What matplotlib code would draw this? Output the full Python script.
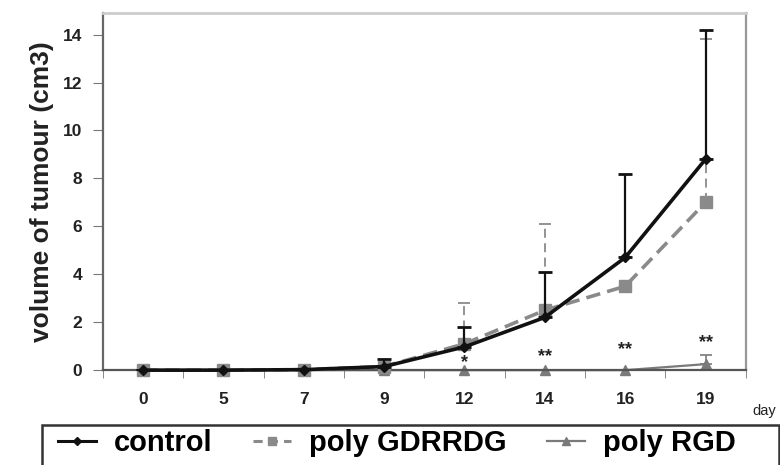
import matplotlib
matplotlib.use("Agg")
import matplotlib.pyplot as plt
from matplotlib.patches import Rectangle
from matplotlib.lines import Line2D
import numpy as np

plt.rcParams['font.family'] = ['Liberation Sans', 'DejaVu Sans']

days = ['0', '5', '7', '9', '12', '14', '16', '19']
control = [0.0, 0.0, 0.02, 0.15, 0.97, 2.2, 4.7, 8.8]
control_err = [0.0, 0.0, 0.0, 0.3, 0.85, 1.9, 3.5, 5.4]
gdrrdg = [0.0, 0.0, 0.02, 0.15, 1.1, 2.5, 3.5, 7.0]
gdrrdg_err = [0.0, 0.0, 0.0, 0.2, 1.7, 3.6, 0.0, 6.8]
rgd = [0.0, 0.0, 0.0, 0.0, 0.0, 0.0, 0.0, 0.25]
rgd_err = [0.0, 0.0, 0.0, 0.0, 0.0, 0.0, 0.0, 0.4]
stars = ['', '', '', '', '*', '**', '**', '**']
star_y = [0, 0, 0, 0, 0.42, 0.67, 0.96, 1.25]
yticks = [0, 2, 4, 6, 8, 10, 12, 14]

fig = plt.figure(figsize=(7.8, 4.65), dpi=100)
ax = fig.add_axes([0.132, 0.204, 0.824, 0.768])
x = np.arange(len(days))

# poly RGD
e3 = ax.errorbar(x, rgd, yerr=[np.zeros(len(x)), rgd_err], color='#7a7a7a',
                 lw=1.6, marker='^', ms=7, capsize=4, elinewidth=1.2, capthick=1.2,
                 zorder=2)
e3[0].set_clip_on(False)
# poly GDRRDG
e2 = ax.errorbar(x, gdrrdg, yerr=[np.zeros(len(x)), gdrrdg_err], color='#8a8a8a',
                 lw=2.6, ls=(0, (4, 2)), marker='s', ms=8, capsize=4,
                 elinewidth=1.3, capthick=1.3, zorder=3)
e2[2][0].set_linestyle((0, (5, 3)))
e2[0].set_clip_on(False)
# control
e1 = ax.errorbar(x, control, yerr=[np.zeros(len(x)), control_err], color='#111111',
                 lw=2.6, marker='D', ms=5, capsize=5, elinewidth=1.6, capthick=2,
                 zorder=4)
e1[0].set_clip_on(False)

for xi, s, sy in zip(x, stars, star_y):
    if s:
        ax.annotate(s, (xi, sy), xytext=(0, -5), textcoords='offset points',
                    ha='center', va='baseline', fontsize=13,
                    fontweight='bold', color='#222222', zorder=10)

ax.set_xlim(-0.5, len(days) - 0.5)
ax.set_ylim(0, 14.9)
ax.set_yticks(yticks)
ax.set_yticklabels([str(v) for v in yticks], fontsize=12.5, fontweight='bold',
                   color='#222222')
ax.set_xticks(x)
ax.set_xticklabels(days, fontsize=12.5, fontweight='bold', color='#222222')
ax.tick_params(axis='x', which='major', length=0, pad=16)
ax.set_xticks(np.arange(-0.5, len(days)), minor=True)
ax.tick_params(axis='x', which='minor', length=6, color='#777777', direction='out')
ax.tick_params(axis='y', length=7, color='#777777', pad=8)

ax.spines['left'].set_color('#666666')
ax.spines['left'].set_linewidth(1.6)
ax.spines['bottom'].set_color('#555555')
ax.spines['bottom'].set_linewidth(1.6)
ax.spines['top'].set_color('#cccccc')
ax.spines['top'].set_linewidth(2)
ax.spines['right'].set_color('#999999')
ax.spines['right'].set_linewidth(1.6)

ax.set_ylabel('volume of tumour (cm3)', fontsize=19, fontweight='bold',
              color='#222222', labelpad=6)
fig.text(752 / 780, 1 - 411 / 465, 'day', fontsize=10.5, color='#222222',
         ha='left', va='center')

# legend
h1 = Line2D([], [], color='#111111', lw=2.2, marker='D', ms=4)
h2 = Line2D([], [], color='#8a8a8a', lw=2.2, ls=(0, (3, 2)), marker='s', ms=6)
h3 = Line2D([], [], color='#7a7a7a', lw=1.6, marker='^', ms=6)
leg = fig.legend([h1, h2, h3], ['control', 'poly GDRRDG', 'poly RGD'],
                 loc='center left', bbox_to_anchor=(0.06, 1 - 443 / 465), ncol=3,
                 frameon=False, prop={'size': 21, 'weight': 'bold'},
                 handlelength=1.3, handletextpad=0.6, columnspacing=1.4,
                 borderaxespad=0)
fig.patches.append(Rectangle((42 / 780, -0.02), 737 / 780, 0.02 + 40 / 465,
                             transform=fig.transFigure, fill=False,
                             edgecolor='#333333', lw=1.8))

fig.savefig('out.png', dpi=100, facecolor='white')
